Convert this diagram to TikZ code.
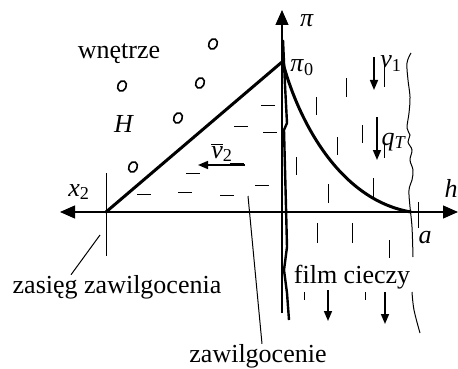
\documentclass[tikz,border=0pt]{standalone}
\usepackage{fontspec}
\setmainfont{Liberation Serif}
\usetikzlibrary{arrows.meta}
\begin{document}
\begin{tikzpicture}[x=1pt,y=-1pt,
  lbl/.style={font=\fontsize{26}{30}\selectfont, inner sep=0pt, anchor=base},
  axisline/.style={line width=1.2pt},
  bigtip/.style={-{Triangle[length=15pt,width=13pt]}},
  thickline/.style={line width=3pt, line cap=round, line join=round},
  wallline/.style={line width=2.4pt, line join=miter},
  thinline/.style={line width=1pt},
  dashmark/.style={line width=1pt},
  flowarrow/.style={line width=1.6pt, -{Triangle[length=10pt,width=8pt]}},
  bubble/.style={line width=1.6pt}
]
\useasboundingbox (0,0) rectangle (458,369);

% axes
\coordinate (O) at (282,212);
\coordinate (hend) at (458,212);
\coordinate (xend) at (60,212);
\coordinate (piend) at (282,10);
\coordinate (pibot) at (282,313);
\draw[axisline,bigtip] (pibot) -- (piend);
\draw[axisline,{Triangle[length=15pt,width=13pt]}-{Triangle[length=15pt,width=13pt]}] (xend) -- (hend);

% x2 tick
\coordinate (tickT) at (106,173);
\coordinate (tickB) at (106,256);
\draw[thinline] (tickT) -- (tickB);

% triangle profile
\coordinate (X2) at (106,212);
\coordinate (P0) at (282,62);
\draw[thickline] (X2) -- (P0);

% exponential profile in film
\coordinate (C0) at (283,63);
\coordinate (Aend) at (411,212);
\draw[thickline] (C0) .. controls (296,112) and (335,199) .. (Aend);

% wall (thick wavy line)
\draw[wallline] (283,40) -- (285,85) -- (287,123) -- (284,130) -- (286,207)
  -- (287,247) -- (284,270) -- (287,293) -- (289,320);

% right wavy boundary of film
\draw[thinline] plot[smooth, tension=0.6] coordinates {(411,53) (407,63) (408,80) (410,97) (409,113) (407,128) (410,135) (408,142) (412,150) (410,160) (413,170) (412,180) (409,190) (410,207) (412,227) (413,257)};
\draw[thinline] plot[smooth, tension=0.6] coordinates {(412,292) (414,310) (420,333)};

% tick at a
\coordinate (aT) at (418,202);
\coordinate (aB) at (418,228);
\draw[thinline] (aT) -- (aB);

% horizontal dashes (moist zone)
\foreach \x/\y in {268/105, 241/126, 270/132, 237/163, 193/173, 262/185, 144/194, 185/192, 227/195}
  \draw[dashmark] (\x-7,\y) -- (\x+7,\y);

% vertical dashes (liquid film)
\foreach \x/\ya/\yb in {384/63/87, 346/78/97, 316/97/115, 362/125/143, 337/137/155, 384/143/158, 296/157/175, 373/178/197, 328/184/203, 317/223/243, 352/223/243, 389/240/258, 304/292/300, 365/292/300}
  \draw[dashmark] (\x,\ya) -- (\x,\yb);

% bubbles
\foreach \x/\y in {213/44, 122/86, 200/83, 178/118, 133/167}
  \draw[bubble, rotate around={-25:(\x,\y)}] (\x,\y) ellipse [x radius=4.2pt, y radius=5.4pt];

% flow arrows
\coordinate (v2s) at (245,165); \coordinate (v2e) at (198,165);
\draw[flowarrow] (v2s) -- (v2e);
\coordinate (v1s) at (374,57); \coordinate (v1e) at (374,90);
\draw[flowarrow] (v1s) -- (v1e);
\coordinate (qs) at (377,117); \coordinate (qe) at (377,160);
\draw[flowarrow] (qs) -- (qe);
\coordinate (b1s) at (328,290); \coordinate (b1e) at (328,321);
\draw[flowarrow] (b1s) -- (b1e);
\coordinate (b2s) at (385,292); \coordinate (b2e) at (385,324);
\draw[flowarrow] (b2s) -- (b2e);

% labels
\node[lbl] (wn) at (119,59) {wnętrze};
\node[lbl] (H) at (124,132) {\textit{H}};
\node[lbl] (x2) at (79,196) {\textit{x}\textsubscript{2}};
\node[lbl] (pi) at (307,27) {\textit{π}};
\node[lbl] (pi0) at (302,72) {\textit{π}\textsubscript{0}};
\node[lbl] (v1) at (391,68) {\textit{v}\textsubscript{1}};
\node[lbl] (qT) at (394,145) {\textit{q}\textsubscript{\textit{T}}};
\node[lbl] (h) at (451,197) {\textit{h}};
\node[lbl] (a) at (425,243) {\textit{a}};
\node[lbl] (v2) at (222,158) {$\overline{\mbox{\textit{v}}}$\textsubscript{2}};
\node[lbl] (film) at (352,283) {film cieczy};
\node[lbl] (zasieg) at (117,293) {zasięg zawilgocenia};
\node[lbl] (zaw) at (258,362) {zawilgocenie};

% leader lines
\coordinate (zs) at (100,235);
\draw[thinline] (zs) -- (zasieg.north -| 71,0) ;
\coordinate (ws) at (248,196);
\draw[thinline] (ws) -- (zaw.north -| 262,0);
\end{tikzpicture}
\end{document}
